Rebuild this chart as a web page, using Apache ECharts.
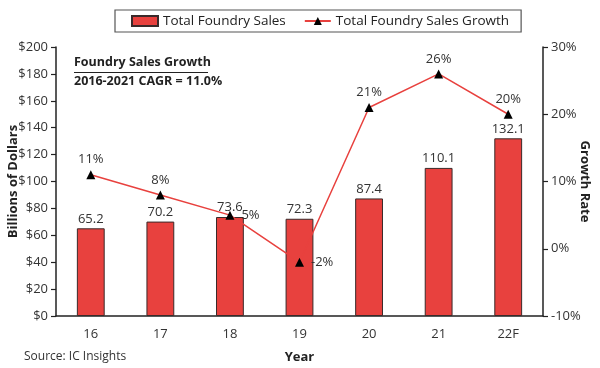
<!DOCTYPE html>
<html><head><meta charset="utf-8">
<script src="https://cdn.jsdelivr.net/npm/echarts@6/dist/echarts.min.js"></script>
<style>html,body{margin:0;padding:0;background:#fff}#c{width:600px;height:368px}</style>
</head><body><div id="c"></div>
<script>
const categories = ['16','17','18','19','20','21','22F'];
const sales = [65.2, 70.2, 73.6, 72.3, 87.4, 110.1, 132.1];
const growth = [11, 8, 5, -2, 21, 26, 20];
const growthLabelPos = ['top','top','right','right','top','top','top'];
const leftTicks = {min:0, max:200, interval:20};
const rightTicks = {min:-10, max:30, interval:10};

const FONT = '"Open Sans", "Liberation Sans", sans-serif';
const chart = echarts.init(document.getElementById('c'));
chart.setOption({
  animation:false,
  textStyle:{fontFamily:FONT},
  grid:{left:56, right:57, top:47, bottom:52, containLabel:false, outerBoundsMode:'none'},
  legend:{
    top:10, left:115,
    padding:[4,12,4,16],
    borderColor:'#555', borderWidth:1.2,
    itemGap:18, itemWidth:26, itemHeight:10,
    textStyle:{fontFamily:FONT, fontSize:13.5, color:'#222'},
    data:[
      {name:'Total Foundry Sales', icon:'rect'},
      {name:'Total Foundry Sales Growth'}
    ]
  },
  xAxis:{
    type:'category', data:categories,
    name:'Year', nameLocation:'middle', nameGap:35, nameMoveOverlap:false,
    nameTextStyle:{fontFamily:FONT, fontSize:13, fontWeight:'bold', color:'#222'},
    axisLine:{lineStyle:{color:'#222', width:1.5}},
    axisTick:{length:5, lineStyle:{color:'#222', width:1.2}},
    axisLabel:{fontFamily:FONT, fontSize:13, color:'#333', margin:12}
  },
  yAxis:[
    {type:'value', min:leftTicks.min, max:leftTicks.max, interval:leftTicks.interval,
     name:'Billions of Dollars', nameLocation:'middle', nameGap:36, nameMoveOverlap:false,
     nameTextStyle:{fontFamily:FONT, fontSize:13, fontWeight:'bold', color:'#222'},
     axisLine:{show:true, lineStyle:{color:'#222', width:1.5}},
     axisTick:{show:true, length:5, lineStyle:{color:'#222', width:1.2}},
     splitLine:{show:false},
     axisLabel:{fontFamily:FONT, fontSize:13, color:'#333', margin:8, formatter:'${value}'}},
    {type:'value', min:rightTicks.min, max:rightTicks.max, interval:rightTicks.interval,
     position:'right',
     name:'Growth Rate', nameLocation:'middle', nameGap:35, nameRotate:-90, nameMoveOverlap:false,
     nameTextStyle:{fontFamily:FONT, fontSize:13, fontWeight:'bold', color:'#222'},
     axisLine:{show:true, lineStyle:{color:'#222', width:1.5}},
     axisTick:{show:true, length:5, lineStyle:{color:'#222', width:1.2}},
     splitLine:{show:false},
     axisLabel:{fontFamily:FONT, fontSize:13, color:'#333', margin:8, formatter:'{value}%'}}
  ],
  series:[
    {name:'Total Foundry Sales', type:'bar', data:sales, barWidth:'40%',
     itemStyle:{color:'#E8413E', borderColor:'#3a2a2a', borderWidth:1},
     label:{show:true, position:'top', distance:3, fontFamily:FONT, fontSize:13, color:'#333'}},
    {name:'Total Foundry Sales Growth', type:'line', yAxisIndex:1,
     data:growth.map((v,i)=>({value:v, label:{position:growthLabelPos[i], distance:growthLabelPos[i]==='right'?7:4}})),
     symbol:'triangle', symbolSize:9,
     lineStyle:{color:'#E8413E', width:1.5},
     itemStyle:{color:'#000'},
     label:{show:true, distance:4, fontFamily:FONT, fontSize:13, color:'#333', formatter:p=>p.value+'%'}}
  ],
  graphic:[
    {type:'text', left:74, top:56, style:{text:'Foundry Sales Growth', font:'bold 12.5px '+FONT, fill:'#222'}},
    {type:'line', shape:{x1:74, y1:72.5, x2:208, y2:72.5}, style:{stroke:'#222', lineWidth:1}},
    {type:'text', left:74, top:75, style:{text:'2016-2021 CAGR = 11.0%', font:'bold 12.5px '+FONT, fill:'#222'}},
    {type:'text', left:24, top:351, style:{text:'Source: IC Insights', font:'12px '+FONT, fill:'#333'}}
  ]
});
</script>
</body></html>
